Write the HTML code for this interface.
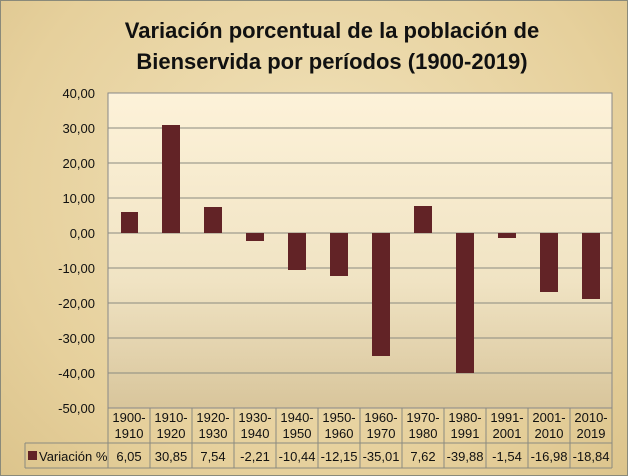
<!DOCTYPE html>
<html><head><meta charset="utf-8"><style>
body{margin:0;width:628px;height:476px;overflow:hidden;font-family:"Liberation Sans",sans-serif}
#bg{position:absolute;left:0;top:0;width:626px;height:474px;border:1px solid #8a8a7a;background:radial-gradient(ellipse at 50% 40%,#f1e2ba,#e6d09c 70%,#dcc48c)}
</style></head><body><div id="bg"></div>
<svg width="628" height="476" style="position:absolute;left:0;top:0" font-family="Liberation Sans, sans-serif">
<defs><linearGradient id="g" x1="0" y1="0" x2="0" y2="1"><stop offset="0" stop-color="#fdf2d9"/><stop offset="0.6" stop-color="#f0e3c3"/><stop offset="1" stop-color="#d8c59b"/></linearGradient></defs>
<text x="332" y="38" text-anchor="middle" font-size="22" font-weight="bold" fill="#111">Variación porcentual de la población de</text>
<text x="332" y="69" text-anchor="middle" font-size="22" font-weight="bold" fill="#111">Bienservida por períodos (1900-2019)</text>
<rect x="108" y="93" width="504" height="315" fill="url(#g)" stroke="#888"/>
<g stroke="#8a8a80" stroke-width="1">
<line x1="108" x2="612" y1="128" y2="128"/><line x1="108" x2="612" y1="163" y2="163"/><line x1="108" x2="612" y1="198" y2="198"/><line x1="108" x2="612" y1="233" y2="233"/><line x1="108" x2="612" y1="268" y2="268"/><line x1="108" x2="612" y1="303" y2="303"/><line x1="108" x2="612" y1="338" y2="338"/><line x1="108" x2="612" y1="373" y2="373"/>
</g>
<g font-size="13" fill="#111" text-anchor="end">
<text x="95" y="98">40,00</text><text x="95" y="133">30,00</text><text x="95" y="168">20,00</text><text x="95" y="203">10,00</text><text x="95" y="238">0,00</text><text x="95" y="273">-10,00</text><text x="95" y="308">-20,00</text><text x="95" y="343">-30,00</text><text x="95" y="378">-40,00</text><text x="95" y="413">-50,00</text>
</g>
<g fill="#622326">
<rect x="121" y="212" width="17" height="21"/>
<rect x="162" y="125" width="18" height="108"/>
<rect x="204" y="207" width="18" height="26"/>
<rect x="246" y="233" width="18" height="8"/>
<rect x="288" y="233" width="18" height="37"/>
<rect x="330" y="233" width="18" height="43"/>
<rect x="372" y="233" width="18" height="123"/>
<rect x="414" y="206" width="18" height="27"/>
<rect x="456" y="233" width="18" height="140"/>
<rect x="498" y="233" width="18" height="5"/>
<rect x="540" y="233" width="18" height="59"/>
<rect x="582" y="233" width="18" height="66"/>
</g>
<g stroke="#8a8a80" fill="none">
<line x1="108" x2="108" y1="408" y2="468"/><line x1="25" x2="612" y1="443" y2="443"/><line x1="25" x2="612" y1="468" y2="468"/><line x1="25" x2="25" y1="443" y2="468"/>
<line x1="150" x2="150" y1="408" y2="468"/><line x1="192" x2="192" y1="408" y2="468"/><line x1="234" x2="234" y1="408" y2="468"/><line x1="276" x2="276" y1="408" y2="468"/><line x1="318" x2="318" y1="408" y2="468"/><line x1="360" x2="360" y1="408" y2="468"/><line x1="402" x2="402" y1="408" y2="468"/><line x1="444" x2="444" y1="408" y2="468"/><line x1="486" x2="486" y1="408" y2="468"/><line x1="528" x2="528" y1="408" y2="468"/><line x1="570" x2="570" y1="408" y2="468"/><line x1="612" x2="612" y1="408" y2="468"/>
</g>
<g font-size="13" fill="#111" text-anchor="middle">
<text x="129" y="422">1900-</text><text x="129" y="438">1910</text>
<text x="171" y="422">1910-</text><text x="171" y="438">1920</text>
<text x="213" y="422">1920-</text><text x="213" y="438">1930</text>
<text x="255" y="422">1930-</text><text x="255" y="438">1940</text>
<text x="297" y="422">1940-</text><text x="297" y="438">1950</text>
<text x="339" y="422">1950-</text><text x="339" y="438">1960</text>
<text x="381" y="422">1960-</text><text x="381" y="438">1970</text>
<text x="423" y="422">1970-</text><text x="423" y="438">1980</text>
<text x="465" y="422">1980-</text><text x="465" y="438">1991</text>
<text x="507" y="422">1991-</text><text x="507" y="438">2001</text>
<text x="549" y="422">2001-</text><text x="549" y="438">2010</text>
<text x="591" y="422">2010-</text><text x="591" y="438">2019</text>
<text x="129" y="461">6,05</text><text x="171" y="461">30,85</text><text x="213" y="461">7,54</text><text x="255" y="461">-2,21</text><text x="297" y="461">-10,44</text><text x="339" y="461">-12,15</text><text x="381" y="461">-35,01</text><text x="423" y="461">7,62</text><text x="465" y="461">-39,88</text><text x="507" y="461">-1,54</text><text x="549" y="461">-16,98</text><text x="591" y="461">-18,84</text>
</g>
<rect x="28" y="451" width="9" height="9" fill="#622326"/>
<text x="39" y="461" font-size="13" fill="#111">Variación %</text>
</svg>
</body></html>
